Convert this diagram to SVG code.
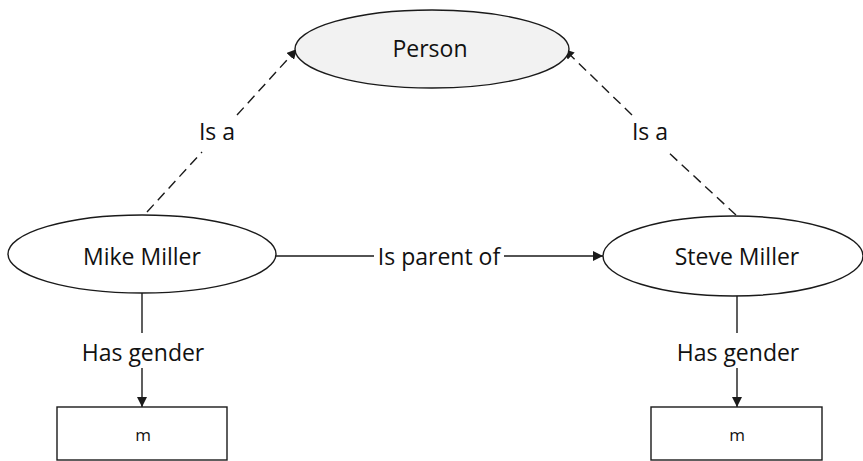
<svg xmlns="http://www.w3.org/2000/svg" width="863" height="461" viewBox="0 0 863 461">
  <style>
    .shape { stroke: #1a1a1a; stroke-width: 1.4; }
    .ell { fill: #ffffff; }
    .ell.top { fill: #f2f2f2; }
    .box { fill: #ffffff; }
    .lbl { font-family: "Open Sans", "Noto Sans", sans-serif; font-size: 23px; fill: #111111; text-anchor: middle; }
    .small { font-size: 17px; }
    .edge { stroke: #1a1a1a; stroke-width: 1.4; fill: none; }
    .dash { stroke-dasharray: 10 6; }
  </style>
  <defs>
    <marker id="arrow" viewBox="0 0 10 10" refX="10" refY="5" markerWidth="10" markerHeight="10" markerUnits="userSpaceOnUse" orient="auto">
      <path d="M0,0 L10,5 L0,10 Z" fill="#1a1a1a"/>
    </marker>
  </defs>

  <g id="connectors">
    <!-- Mike Miller -> Person (is a) -->
    <line class="edge dash" x1="147" y1="212" x2="202" y2="152"/>
    <line class="edge dash" x1="237" y1="115" x2="297" y2="49" marker-end="url(#arrow)"/>
    <text class="lbl" x="217" y="140">Is a</text>
    <!-- Steve Miller -> Person (is a) -->
    <line class="edge dash" x1="736" y1="215" x2="668" y2="152"/>
    <line class="edge dash" x1="632" y1="115" x2="564" y2="49" marker-end="url(#arrow)"/>
    <text class="lbl" x="650" y="140">Is a</text>
    <!-- Mike Miller -> Steve Miller (is parent of) -->
    <line class="edge" x1="276" y1="256" x2="374" y2="256"/>
    <line class="edge" x1="504" y1="256" x2="603" y2="256" marker-end="url(#arrow)"/>
    <text class="lbl" x="439" y="265">Is parent of</text>
    <!-- gender links -->
    <line class="edge" x1="142" y1="293" x2="142" y2="333"/>
    <line class="edge" x1="142" y1="368" x2="142" y2="407" marker-end="url(#arrow)"/>
    <text class="lbl" x="143" y="361">Has gender</text>
    <line class="edge" x1="737" y1="295" x2="737" y2="333"/>
    <line class="edge" x1="737" y1="368" x2="737" y2="407" marker-end="url(#arrow)"/>
    <text class="lbl" x="738" y="361">Has gender</text>
  </g>

  <g id="person">
    <ellipse class="shape ell top" cx="432" cy="49" rx="137" ry="39"/>
    <text class="lbl" x="430" y="57">Person</text>
  </g>

  <g id="mike-miller">
    <ellipse class="shape ell" cx="142" cy="254" rx="134" ry="39"/>
    <text class="lbl" x="142" y="265">Mike Miller</text>
  </g>

  <g id="steve-miller">
    <ellipse class="shape ell" cx="733" cy="256" rx="130" ry="40"/>
    <text class="lbl" x="737" y="265">Steve Miller</text>
  </g>

  <g id="gender-mike">
    <rect class="shape box" x="57" y="407" width="170" height="53"/>
    <text class="lbl small" x="143" y="441">m</text>
  </g>

  <g id="gender-steve">
    <rect class="shape box" x="651" y="407" width="171" height="53"/>
    <text class="lbl small" x="737" y="441">m</text>
  </g>
</svg>
